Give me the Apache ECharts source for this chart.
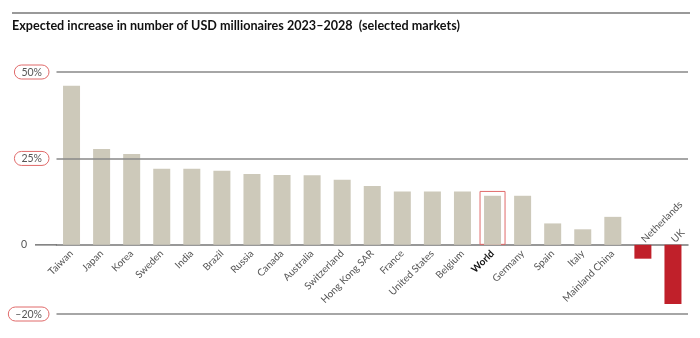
<!DOCTYPE html>
<html><head><meta charset="utf-8">
<script src="https://cdn.jsdelivr.net/npm/echarts@6/dist/echarts.min.js"></script>
<style>html,body{margin:0;padding:0;background:#fff}#c{width:700px;height:338px}</style>
</head><body><div id="c"></div>
<script>
const categories = ['Taiwan','Japan','Korea','Sweden','India','Brazil','Russia','Canada','Australia','Switzerland','Hong Kong SAR','France','United States','Belgium','World','Germany','Spain','Italy','Mainland China','Netherlands','UK'];
const values = [46, 27.7, 26.3, 22, 22, 21.4, 20.5, 20.2, 20.1, 18.8, 17, 15.4, 15.4, 15.4, 14.2, 14.2, 6.2, 4.5, 8.1, -4, -17.1];
const highlightCategory = 'World';
const highlightValue = 15.6;
const yTickValues = [-20, 0, 25, 50];
const yTickLabels = ['–20%', '0', '25%', '50%'];
const gridLineValues = [50, 25, -20];

const FONT = 'Lato';
const chart = echarts.init(document.getElementById('c'), null, {renderer: 'canvas'});
const highlightData = categories.map(c => c === highlightCategory ? highlightValue : null);

function buildOption(xOffset) {
  return {
    animation: false,
    textStyle: {fontFamily: FONT},
    title: {
      text: 'Expected increase in number of USD millionaires 2023–2028  (selected markets)',
      left: 12, top: 19, padding: 0,
      textStyle: {fontFamily: FONT, fontSize: 12.6, fontWeight: 'bold', color: '#111'}
    },
    grid: {left: 56.5, right: 12, top: 72, bottom: 24, containLabel: false, outerBoundsMode: 'none'},
    xAxis: [{
      type: 'category',
      position: 'bottom',
      offset: xOffset,
      data: categories.map(c => {
        if (c === highlightCategory) return {value: c, textStyle: {fontWeight: 'bold', color: '#111'}};
        return c;
      }),
      axisLine: {onZero: false, lineStyle: {color: '#777', width: 1.5}},
      axisTick: {show: false},
      axisLabel: {
        interval: 0, rotate: 45, margin: 7, fontSize: 10, color: '#555', fontFamily: FONT,
        hideOverlap: false,
        formatter: (v, i) => values[i] < 0 ? '' : v
      }
    }, {
      type: 'category', data: categories, show: false, position: 'top'
    }],
    yAxis: {
      type: 'value', min: -20, max: 50, interval: 5,
      axisLine: {show: false}, axisTick: {show: false}, splitLine: {show: false},
      axisLabel: {
        margin: 7.5, fontFamily: FONT, fontSize: 10, color: '#555',
        formatter: v => {
          const k = yTickValues.indexOf(v);
          if (k < 0) return '';
          if (v === 0) return '{z|' + yTickLabels[k] + '}';
          return '{p|' + yTickLabels[k] + '}';
        },
        rich: {
          p: {borderColor: '#e06a6a', borderWidth: 1, borderRadius: 7, padding: [2, 7, 1, 7], fontSize: 10.5, color: '#555', fontFamily: FONT},
          z: {padding: [0, 22, 0, 0], fontSize: 10.5, color: '#555', fontFamily: FONT}
        }
      }
    },
    series: [{
      type: 'bar',
      data: values.map(v => ({
        value: v,
        itemStyle: {color: v < 0 ? '#c0202a' : '#cdc9ba'},
        label: v < 0 ? {show: true} : {show: false}
      })),
      barWidth: 17,
      label: {
        formatter: '{b}', position: 'top', rotate: 45, align: 'left', verticalAlign: 'middle',
        distance: 4, fontSize: 10, color: '#555', fontFamily: FONT
      },
      markLine: {
        silent: true, symbol: 'none', label: {show: false},
        lineStyle: {color: '#888', width: 1.5, type: 'solid'},
        data: gridLineValues.map(v => ({yAxis: v}))
      },
      z: 3
    }, {
      type: 'bar', xAxisIndex: 1, data: highlightData, barWidth: 26,
      itemStyle: {color: 'rgba(0,0,0,0)', borderColor: '#e06a6a', borderWidth: 1},
      z: 2
    }]
  };
}
chart.setOption(buildOption(0));
const y0 = chart.convertToPixel({yAxisIndex: 0}, 0);
const yMin = chart.convertToPixel({yAxisIndex: 0}, -20);
chart.setOption(buildOption(-(yMin - y0)), true);
chart.setOption({
  graphic: [
    {type: 'line', shape: {x1: 12, y1: 13, x2: 690, y2: 13}, style: {stroke: '#999', lineWidth: 2}},
    {type: 'line', shape: {x1: 35, y1: y0, x2: 57, y2: y0}, style: {stroke: '#777', lineWidth: 1.5}}
  ]
});
</script></body></html>
